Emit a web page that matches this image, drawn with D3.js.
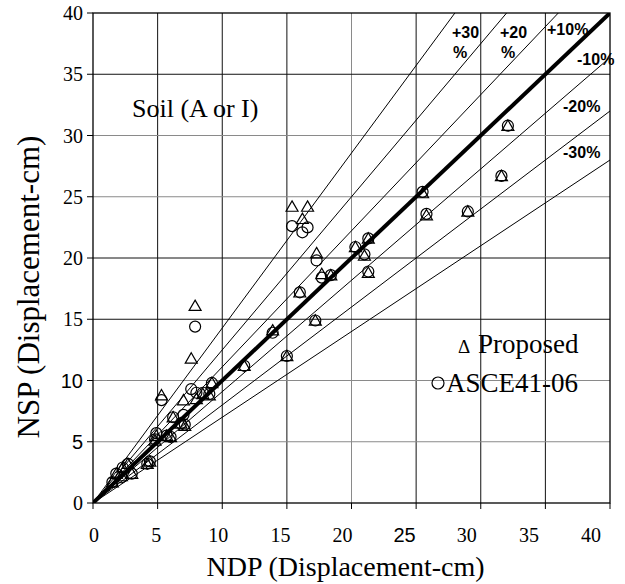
<!DOCTYPE html>
<html>
<head>
<meta charset="utf-8">
<script src="https://cdnjs.cloudflare.com/ajax/libs/d3/7.8.5/d3.min.js"></script>
<style>
  body { margin: 0; background: #fff; }
</style>
</head>
<body>
<div id="containerChart"></div>
<script>
// NDP (x) vs NSP (y) in cm, one row per record
let ndp =         [32.1, 31.6, 29.0, 25.8, 25.5, 21.3, 21.0, 20.3, 21.3, 18.4, 17.7, 17.3, 16.0, 17.2, 15.4, 16.2, 16.6, 15.0, 13.9, 11.7, 7.9, 7.6, 5.3, 9.2, 9.0, 8.5, 8.0, 7.0, 6.2, 7.1, 6.8, 4.9, 4.8, 5.7, 6.0, 4.4, 4.2, 2.7, 2.3, 1.8, 2.2, 3.0, 1.5];
let nspProposed = [30.7, 26.6, 23.7, 23.4, 25.2, 21.5, 20.1, 20.8, 18.7, 18.5, 18.6, 20.3, 17.1, 14.8, 24.1, 23.1, 24.1, 11.9, 14.0, 11.1, 16.0, 11.7, 8.7, 9.7, 8.7, 8.8, 8.4, 8.3, 6.9, 6.2, 6.4, 5.4, 5.0, 5.4, 5.3, 3.3, 3.1, 3.1, 2.8, 2.3, 2.1, 2.3, 1.6];
let nspAsce =     [30.8, 26.7, 23.8, 23.6, 25.4, 21.6, 20.3, 20.9, 18.9, 18.6, 18.4, 19.8, 17.2, 14.9, 22.6, 22.1, 22.5, 12.0, 13.9, 11.2, 14.4, 9.3, 8.4, 9.8, 8.9, 9.0, 9.0, 7.2, 7.0, 6.4, 6.5, 5.7, 5.2, 5.5, 5.4, 3.4, 3.2, 3.2, 2.9, 2.4, 2.1, 2.4, 1.7];

let axisTicks = [0, 5, 10, 15, 20, 25, 30, 35, 40];

// error bounds (NSP = NDP * ratio)
let boundLabels = ["+30 %", "+20 %", "+10%", "", "-10%", "-20%", "-30%"];
let boundRatios = [1 / 0.7, 1 / 0.8, 1 / 0.9, 1, 1 / 1.1, 0.8, 0.7];

function mainChart() {
    let margin = {top: 13, right: 15, bottom: 81, left: 93};
    let W = 625, H = 584;
    let w = W - margin.left - margin.right;
    let h = H - margin.top - margin.bottom;
    let serif = "'Liberation Serif', 'Times New Roman', serif";
    let sans = "'Liberation Sans', Arial, sans-serif";

    let svg = d3.select("#containerChart")
                .append("svg")
                .attr("width", W)
                .attr("height", H);

    let g = svg.append("g")
               .attr("transform", "translate(" + margin.left + "," + margin.top + ")");

    let x = d3.scaleLinear().domain([0, 40]).range([0, w]);
    let y = d3.scaleLinear().domain([0, 40]).range([h, 0]);
    // tick labels in the original drift a little left of their gridlines
    let xLabel = d3.scaleLinear().domain([0, 40]).range([1, w - 19]);

    let grayX = [20];
    let grayY = [5, 10, 25, 30];

    // grid
    g.selectAll("line.gx")
     .data(axisTicks.filter(d => d > 0 && d < 40))
     .enter().append("line")
     .attr("class", "gx")
     .attr("x1", d => x(d)).attr("x2", d => x(d))
     .attr("y1", 0).attr("y2", h)
     .style("stroke", d => grayX.includes(d) ? "#8a8a8a" : "#111")
     .style("stroke-width", 1);

    g.selectAll("line.gy")
     .data(axisTicks.filter(d => d > 0 && d < 40))
     .enter().append("line")
     .attr("class", "gy")
     .attr("x1", 0).attr("x2", w)
     .attr("y1", d => y(d)).attr("y2", d => y(d))
     .style("stroke", d => grayY.includes(d) ? "#8a8a8a" : "#111")
     .style("stroke-width", 1);

    // frame
    g.append("rect")
     .attr("x", 0).attr("y", 0)
     .attr("width", w).attr("height", h)
     .style("fill", "none")
     .style("stroke", "#000")
     .style("stroke-width", 1.3);

    // bound lines, clipped to the plot
    g.append("clipPath").attr("id", "plotClip")
     .append("rect").attr("width", w).attr("height", h);

    g.append("g").attr("clip-path", "url(#plotClip)")
     .selectAll("line.bound")
     .data(boundRatios)
     .enter().append("line")
     .attr("class", "bound")
     .attr("x1", x(0)).attr("y1", y(0))
     .attr("x2", x(40)).attr("y2", d => y(40 * d))
     .style("stroke", "#000")
     .style("stroke-width", d => d == 1 ? 4 : 1);

    // axis ticks
    g.selectAll("line.tx")
     .data(axisTicks)
     .enter().append("line")
     .attr("x1", d => x(d)).attr("x2", d => x(d))
     .attr("y1", h).attr("y2", h + 6)
     .style("stroke", "#000");

    g.selectAll("line.ty")
     .data(axisTicks)
     .enter().append("line")
     .attr("x1", -6).attr("x2", 0)
     .attr("y1", d => y(d)).attr("y2", d => y(d))
     .style("stroke", "#000");

    g.selectAll("text.tx")
     .data(axisTicks)
     .enter().append("text")
     .attr("x", d => xLabel(d))
     .attr("y", h + 39)
     .attr("text-anchor", "middle")
     .style("font-family", d => d == 25 ? sans : serif)
     .style("font-size", "20px")
     .text(d => d);

    g.selectAll("text.ty")
     .data(axisTicks)
     .enter().append("text")
     .attr("x", -10)
     .attr("y", d => y(d))
     .attr("dy", "0.35em")
     .attr("text-anchor", "end")
     .style("font-family", d => (d == 5 || d == 10) ? sans : serif)
     .style("font-size", "20px")
     .text(d => d);

    // markers
    let tri = d3.symbol().type(d3.symbolTriangle).size(62);
    let rows = ndp.map((d, i) => ({ndp: d, prop: nspProposed[i], asce: nspAsce[i]}));

    g.selectAll("circle.asce")
     .data(rows)
     .enter().append("circle")
     .attr("class", "asce")
     .attr("cx", d => x(d.ndp))
     .attr("cy", d => y(d.asce))
     .attr("r", 5.5)
     .style("fill", "none")
     .style("stroke", "#000")
     .style("stroke-width", 1.2);

    g.selectAll("path.prop")
     .data(rows)
     .enter().append("path")
     .attr("class", "prop")
     .attr("d", tri)
     .attr("transform", d => "translate(" + x(d.ndp) + "," + y(d.prop) + ")")
     .style("fill", "none")
     .style("stroke", "#000")
     .style("stroke-width", 1.2);

    // bound labels
    let labelPos = [[452, 38], [500, 38], [547, 35], null, [577, 65], [563, 112], [563, 158]];
    boundLabels.forEach(function(lab, i) {
        if (!lab) return;
        let parts = lab.split(" ");
        parts.forEach(function(p, k) {
            svg.append("text")
               .attr("x", labelPos[i][0] + (k > 0 ? 1 : 0))
               .attr("y", labelPos[i][1] + k * 20)
               .style("font-family", sans)
               .style("font-weight", "bold")
               .style("font-size", "16px")
               .text(p);
        });
    });

    svg.append("text")
       .attr("x", 132).attr("y", 117)
       .style("font-family", serif)
       .style("font-size", "26px")
       .text("Soil (A or I)");

    // legend
    svg.append("text")
       .attr("x", 458).attr("y", 353)
       .style("font-family", serif)
       .style("font-size", "19px")
       .text("\u0394");
    svg.append("text")
       .attr("x", 478).attr("y", 353)
       .style("font-family", serif)
       .style("font-size", "27px")
       .text("Proposed");
    svg.append("circle")
       .attr("cx", 438).attr("cy", 383).attr("r", 6)
       .style("fill", "none")
       .style("stroke", "#000")
       .style("stroke-width", 1.2);
    svg.append("text")
       .attr("x", 446).attr("y", 392)
       .style("font-family", serif)
       .style("font-size", "27px")
       .text("ASCE41-06");

    // axis titles
    svg.append("text")
       .attr("x", margin.left + w / 2 - 6)
       .attr("y", 576)
       .attr("text-anchor", "middle")
       .style("font-family", serif)
       .style("font-size", "28px")
       .text("NDP (Displacement-cm)");

    svg.append("text")
       .attr("transform", "translate(39," + (margin.top + h / 2 + 29) + ") rotate(-90)")
       .attr("text-anchor", "middle")
       .style("font-family", serif)
       .style("font-size", "31px")
       .text("NSP (Displacement-cm)");
}

mainChart();
</script>
</body>
</html>
